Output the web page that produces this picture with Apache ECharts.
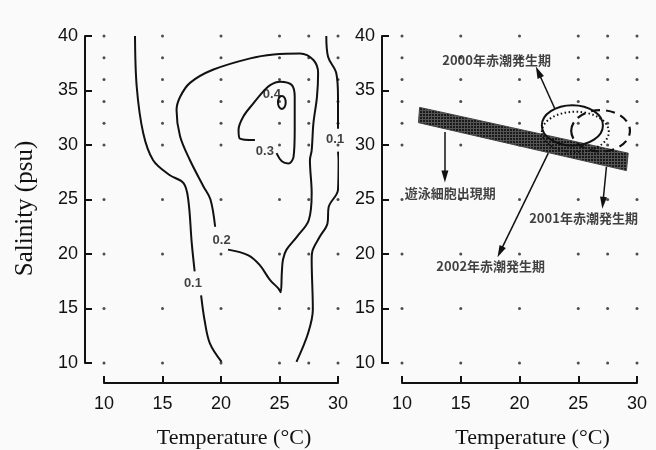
<!DOCTYPE html>
<html>
<head>
	<meta charset="utf-8">
	<title>Salinity - Temperature</title>
</head>
<body style="margin:0;background:#fafafa;">
<script type="text/javascript" src="https://cdn.jsdelivr.net/npm/echarts@6/dist/echarts.min.js"></script>
<div id="container" style="width: 656px;height: 450px;"></div>
<script type="text/javascript">
	// 格子点 (both panels)
	var dotX = [10, 15, 20, 25, 27.5, 30];
	var dotY = [40, 38, 36, 34, 32, 30, 25, 20, 15, 10];

	// left panel: contour lines [temperature, salinity]
	var c01LeftTop = [[12.65, 40], [12.8, 35.3], [13.35, 31.1], [14.2, 28.6], [15.6, 27.25], [16.8, 26.5], [17.2, 25.0], [17.5, 21.0], [17.75, 18.4]];
	var c01LeftBottom = [[18.3, 16.2], [18.6, 13.9], [19.05, 11.8], [20.05, 10.1]];
	var c01RightTop = [[29.0, 40], [29.15, 38.1], [29.85, 36.6], [30.0, 34.4], [30.0, 31.5]];
	var c01RightBottom = [[30.0, 29.4], [30.05, 28.6], [30.0, 25.9], [29.2, 24.3], [29.1, 22.8], [28.45, 21.6], [27.85, 20.4], [27.75, 19.5], [27.85, 14.9], [27.45, 12.75], [26.45, 10.1]];
	var c02 = [[20.6, 20.4], [22.3, 19.9], [23.3, 19.0], [24.2, 17.6], [24.9, 16.85], [25.1, 16.5], [25.2, 18.3], [25.3, 19.5], [25.6, 20.4], [26.5, 21.6], [27.5, 23.1], [27.75, 25.6], [27.6, 28.6], [27.75, 29.5], [27.9, 32.0], [28.2, 34.4], [28.3, 36.6], [27.9, 37.8], [26.75, 38.4], [24.5, 38.3], [22.5, 37.95], [19.3, 36.9], [17.35, 35.7], [16.5, 34.4], [16.2, 33.2], [16.5, 30.8], [17.35, 28.6], [18.5, 26.2], [19.1, 25.0], [19.5, 22.5]];
	var c03 = [[24.75, 29.25], [25.2, 28.5], [25.75, 28.3], [26.2, 28.9], [26.3, 31.4], [26.3, 34.4], [26.05, 35.5], [25.05, 35.8], [24.2, 35.5], [23.6, 34.9], [22.75, 33.8], [21.9, 32.6], [21.5, 31.4], [21.6, 30.6], [22.9, 30.45]];
	// 0.4: small closed loop [cx, cy, rx, ry]
	var c04 = [25.2, 33.9, 0.33, 0.6];
	var contourLabels = [
		{name: '0.1', value: [17.6, 17.3]},
		{name: '0.1', value: [29.75, 30.5]},
		{name: '0.2', value: [20.05, 21.2]},
		{name: '0.3', value: [23.75, 29.4]},
		{name: '0.4', value: [24.35, 34.6]}
	];

	// right panel
	var bandCorners = [[11.5, 33.45], [29.25, 29.25], [29.1, 27.65], [11.4, 32.05]];
	var ellipse2000 = [24.5, 31.8, 2.6, 1.85];
	var ellipse2001 = [26.9, 31.3, 2.5, 1.9];
	var ellipse2002 = [24.75, 31.2, 2.85, 1.85];
	var arrows = [
		[[13.65, 31.2], [13.65, 27.1]],
		[[23.0, 33.35], [21.6, 36.7]],
		[[27.4, 28.0], [27.1, 24.7]],
		[[22.45, 29.25], [18.35, 20.2]]
	];
	var arrowLabels = [
		{name: '遊泳細胞出現期', value: [14.1, 25.6]},
		{name: '2000年赤潮発生期', value: [18.05, 37.8]},
		{name: '2001年赤潮発生期', value: [25.45, 23.3]},
		{name: '2002年赤潮発生期', value: [17.55, 18.85]}
	];

	var ink = '#111';
	var tickFont = "'Liberation Sans Narrow', 'Liberation Sans', sans-serif";
	var serif = "'Liberation Serif', 'DejaVu Serif', serif";

	var dots = [];
	for (var i = 0; i < dotX.length; i++) {
		for (var j = 0; j < dotY.length; j++) {
			dots.push([dotX[i], dotY[j]]);
		}
	}

	// 网点 texture for the band
	var pat = document.createElement('canvas');
	pat.width = 3; pat.height = 3;
	var pctx = pat.getContext('2d');
	pctx.fillStyle = '#555';
	pctx.fillRect(0, 0, 3, 3);
	pctx.fillStyle = '#1a1a1a';
	pctx.fillRect(0, 0, 2, 2);

	function makeX(idx) {
		return {
			gridIndex: idx, type: 'value', min: 10, max: 30, interval: 5,
			position: 'bottom', offset: 20,
			axisLine: {lineStyle: {color: ink, width: 2}},
			axisTick: {inside: true, length: 7, lineStyle: {color: ink, width: 2}},
			axisLabel: {margin: 12, color: ink, fontSize: 18, fontFamily: tickFont},
			splitLine: {show: false},
			name: 'Temperature (°C)', nameLocation: 'middle', nameGap: 44,
			nameTextStyle: {color: ink, fontSize: 22, fontFamily: serif, padding: [0, 0, 0, 26]}
		};
	}
	function makeY(idx, withName) {
		var a = {
			gridIndex: idx, type: 'value', min: 10, max: 40, interval: 5,
			position: 'left', offset: idx === 0 ? 19 : 20,
			axisLine: {show: true, lineStyle: {color: ink, width: 2}},
			axisTick: {show: true, inside: true, length: 7, lineStyle: {color: ink, width: 2}},
			axisLabel: {margin: 7, color: ink, fontSize: 18, fontFamily: tickFont, padding: [10, 0, 0, 0]},
			splitLine: {show: false}
		};
		if (withName) {
			a.name = 'Salinity (psu)';
			a.nameLocation = 'middle';
			a.nameGap = 47;
			a.nameTextStyle = {color: ink, fontSize: 25, fontFamily: serif, padding: [0, 18, 0, 0]};
		}
		return a;
	}

	function contour(data) {
		return {
			type: 'line', xAxisIndex: 0, yAxisIndex: 0, data: data,
			showSymbol: false, symbol: 'none', smooth: 0.35, clip: false, silent: true,
			lineStyle: {color: ink, width: 2}
		};
	}

	function ellipse(params, xi, dash, width) {
		return {
			type: 'custom', xAxisIndex: xi, yAxisIndex: xi, data: [params], silent: true, z: 4,
			renderItem: function (p, api) {
				var c = api.coord([api.value(0), api.value(1)]);
				var s = api.size([api.value(2), api.value(3)]);
				return {
					type: 'ellipse',
					shape: {cx: c[0], cy: c[1], rx: s[0], ry: s[1]},
					style: {fill: 'none', stroke: ink, lineWidth: width, lineDash: dash}
				};
			}
		};
	}

	function textLayer(data, xi, style) {
		return {
			type: 'scatter', xAxisIndex: xi, yAxisIndex: xi, data: data,
			symbolSize: 1, itemStyle: {color: 'transparent'}, silent: true, z: 6,
			labelLayout: {hideOverlap: false},
			label: Object.assign({show: true, position: 'inside', formatter: '{b}', color: ink}, style)
		};
	}

	var myChart = echarts.init(document.getElementById('container'));
	var option = {
		backgroundColor: '#fafafa',
		animation: false,
		grid: [
			{left: 104, top: 36, width: 234, height: 327, outerBoundsMode: 'none', containLabel: false},
			{left: 402, top: 36, width: 235, height: 327, outerBoundsMode: 'none', containLabel: false}
		],
		xAxis: [makeX(0), makeX(1)],
		yAxis: [makeY(0, true), makeY(1, false)],
		series: [
			{type: 'scatter', xAxisIndex: 0, yAxisIndex: 0, data: dots, symbolSize: 3, itemStyle: {color: '#222'}, silent: true},
			{type: 'scatter', xAxisIndex: 1, yAxisIndex: 1, data: dots, symbolSize: 3, itemStyle: {color: '#222'}, silent: true,
				markLine: {
					silent: true, symbol: ['none', 'triangle'], symbolSize: [7, 12],
					label: {show: false},
					lineStyle: {color: ink, width: 1.5, type: 'solid'},
					data: arrows.map(function (a) { return [{coord: a[0]}, {coord: a[1]}]; })
				}
			},
			contour(c01LeftTop), contour(c01LeftBottom),
			contour(c01RightTop), contour(c01RightBottom),
			contour(c02), contour(c03),
			ellipse(c04, 0, null, 2),
			textLayer(contourLabels, 0, {fontSize: 13, fontWeight: 'bold', fontFamily: "'Liberation Sans', sans-serif"}),
			{
				type: 'custom', xAxisIndex: 1, yAxisIndex: 1, data: [bandCorners[0]], silent: true, z: 3,
				renderItem: function (p, api) {
					var pts = bandCorners.map(function (c) { return api.coord(c); });
					return {type: 'polygon', shape: {points: pts}, style: {fill: {image: pat, repeat: 'repeat'}, stroke: '#444', lineWidth: 1}};
				}
			},
			ellipse(ellipse2000, 1, null, 2),
			ellipse(ellipse2001, 1, [9, 6], 2.2),
			ellipse(ellipse2002, 1, [1.5, 2.5], 2),
			textLayer(arrowLabels, 1, {fontSize: 13, fontWeight: 'bold', fontFamily: "'Noto Sans CJK JP', sans-serif"})
		]
	};
	myChart.setOption(option);
	window.addEventListener('resize', myChart.resize);
</script>
</body>
</html>
